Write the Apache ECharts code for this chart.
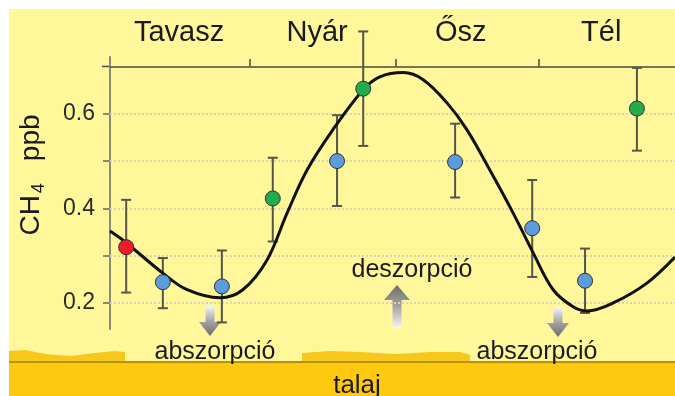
<!DOCTYPE html>
<html>
<head>
<meta charset="utf-8">
<script src="https://cdn.jsdelivr.net/npm/echarts@6/dist/echarts.min.js"></script>
<style>
html, body { margin: 0; padding: 0; background: #fff; }
#chart { width: 675px; height: 396px; }
</style>
</head>
<body>
<div id="chart"></div>
<script>
// x = months from start of spring, y = CH4 ppb
const months = [0.34, 1.11, 2.35, 3.42, 4.77, 5.32, 7.25, 8.87, 9.98, 11.07];
const means = [0.318, 0.244, 0.235, 0.421, 0.50, 0.653, 0.498, 0.358, 0.247, 0.611];
const upper = [0.418, 0.295, 0.311, 0.507, 0.597, 0.774, 0.579, 0.460, 0.315, 0.697];
const lower = [0.222, 0.189, 0.159, 0.330, 0.405, 0.532, 0.423, 0.255, 0.179, 0.522];
const pointColors = ['#ec1c2a', '#5b9ddb', '#5b9ddb', '#21ad4b', '#5b9ddb', '#21ad4b', '#5b9ddb', '#5b9ddb', '#5b9ddb', '#21ad4b'];

// fitted seasonal curve
const curveX = [0.00, 0.32, 1.11, 1.62, 2.31, 2.79, 3.30, 3.72, 4.14, 4.68, 5.32, 5.67, 6.16, 6.58, 7.08, 7.50, 7.98, 8.47, 8.89, 9.31, 9.73, 10.02, 10.57, 11.28, 11.87];
const curveY = [0.352, 0.329, 0.263, 0.228, 0.211, 0.228, 0.291, 0.390, 0.481, 0.566, 0.651, 0.678, 0.687, 0.672, 0.623, 0.566, 0.481, 0.390, 0.306, 0.228, 0.192, 0.183, 0.200, 0.242, 0.297];

const seasons = ['Tavasz', 'Nyár', 'Ősz', 'Tél'];
const seasonCenters = [1.45, 4.35, 7.37, 10.32];
const seasonBreaks = [2.94, 6.0, 9.0];
const gridValues = [0.2, 0.3, 0.4, 0.5, 0.6];
const yLabels = [0.2, 0.4, 0.6];

const textColor = '#1a1a20';
const font = '"Liberation Sans", Arial, sans-serif';

const chart = echarts.init(document.getElementById('chart'));

const option = {
    backgroundColor: '#fff799',
    animation: false,
    grid: { left: 110, right: 0, top: 57, bottom: 67 },
    xAxis: {
        type: 'value',
        min: 0,
        max: 11.87,
        show: false
    },
    yAxis: {
        type: 'value',
        min: 0.145,
        max: 0.72,
        axisLine: { show: true, lineStyle: { color: '#8a8a7a', width: 2 } },
        axisTick: {
            show: true,
            length: 7,
            customValues: gridValues,
            lineStyle: { color: '#8a8a7a', width: 2 }
        },
        axisLabel: {
            customValues: yLabels,
            margin: 15,
            fontSize: 23,
            fontFamily: font,
            color: '#2a2a2a',
            formatter: (v) => v.toFixed(1)
        },
        splitLine: { show: false }
    },
    series: [
        {
            // grid lines, top frame line and season dividers
            type: 'line',
            data: [],
            silent: true,
            z: 1,
            markLine: {
                z: 1,
                silent: true,
                symbol: 'none',
                label: { show: false },
                data: gridValues.map(v => ({
                    yAxis: v,
                    lineStyle: { color: '#d8d4b4', width: 2, type: [2, 2] }
                })).concat([
                    { yAxis: 0.70, lineStyle: { color: '#4a4a40', width: 1.5, type: 'solid' } }
                ]).concat(seasonBreaks.map(b => [
                    { coord: [b, 0.70], lineStyle: { color: '#4a4a40', width: 1.5, type: 'solid' } },
                    { coord: [b, 0.716] }
                ]))
            }
        },
        {
            type: 'custom',
            z: 2,
            data: months.map((m, i) => [m, lower[i], upper[i]]),
            renderItem: (params, api) => {
                const lo = api.coord([api.value(0), api.value(1)]);
                const hi = api.coord([api.value(0), api.value(2)]);
                const w = 5;
                const style = { stroke: '#55554a', lineWidth: 2 };
                return {
                    type: 'group',
                    children: [
                        { type: 'line', shape: { x1: lo[0], y1: lo[1], x2: hi[0], y2: hi[1] }, style },
                        { type: 'line', shape: { x1: lo[0] - w, y1: lo[1], x2: lo[0] + w, y2: lo[1] }, style },
                        { type: 'line', shape: { x1: hi[0] - w, y1: hi[1], x2: hi[0] + w, y2: hi[1] }, style }
                    ]
                };
            }
        },
        {
            type: 'line',
            z: 3,
            smooth: 0.35,
            showSymbol: false,
            data: curveX.map((x, i) => [x, curveY[i]]),
            lineStyle: { color: '#111', width: 3 }
        },
        {
            type: 'scatter',
            z: 6,
            symbolSize: 15,
            data: months.map((m, i) => ({
                value: [m, means[i]],
                itemStyle: { color: pointColors[i] }
            })),
            itemStyle: { borderColor: '#333333', borderWidth: 1, opacity: 1 }
        }
    ]
};

chart.setOption(option);

const arrowFill = (flip) => new echarts.graphic.LinearGradient(0, flip ? 1 : 0, 0, flip ? 0 : 1, [
    { offset: 0, color: '#f6f6f6' },
    { offset: 0.5, color: '#a4a4a4' },
    { offset: 1, color: '#6e6e6e' }
]);

const downArrow = (cx, top) => ({
    type: 'polygon',
    shape: {
        points: [[cx - 4.5, top], [cx + 4.5, top], [cx + 4.5, top + 16], [cx + 11, top + 16],
            [cx, top + 30], [cx - 11, top + 16], [cx - 4.5, top + 16]]
    },
    style: { fill: arrowFill(false) }
});

const upArrow = (cx, top) => ({
    type: 'polygon',
    shape: {
        points: [[cx, top], [cx + 13, top + 15], [cx + 4.5, top + 15], [cx + 4.5, top + 43],
            [cx - 4.5, top + 43], [cx - 4.5, top + 15], [cx - 13, top + 15]]
    },
    style: { fill: arrowFill(true) }
});

const label = (text, x, y, size) => ({
    type: 'text',
    x: x,
    y: y,
    style: {
        text: text,
        fill: textColor,
        font: size + 'px ' + font,
        align: 'center',
        verticalAlign: 'middle'
    }
});

const graphics = [
    // soil
    {
        type: 'polygon',
        shape: {
            points: [[9, 351], [25, 350], [45, 354], [70, 356], [95, 353], [115, 351], [125, 352], [125, 362], [9, 362]]
        },
        style: { fill: '#f7c81c' }
    },
    {
        type: 'polygon',
        shape: {
            points: [[302, 353], [330, 351], [360, 352], [395, 354], [430, 352], [460, 352], [470, 355], [470, 362], [302, 362]]
        },
        style: { fill: '#f7c81c' }
    },
    { type: 'rect', shape: { x: 9, y: 363, width: 666, height: 33 }, style: { fill: '#fec90e' } },
    { type: 'rect', shape: { x: 9, y: 361, width: 666, height: 2 }, style: { fill: '#b8920a' } },
    label('talaj', 357, 386, 26),
    downArrow(210, 306),
    downArrow(558, 307),
    upArrow(397, 285),
    label('abszorpció', 215, 352, 25),
    label('abszorpció', 537, 352, 25),
    label('deszorpció', 412, 270, 25),
    // y axis name
    {
        type: 'text',
        x: 31,
        y: 175,
        rotation: Math.PI / 2,
        style: {
            text: '{a|CH}{b|4}{c|ppb}',
            align: 'center',
            verticalAlign: 'middle',
            rich: {
                a: { fontSize: 28, fontFamily: font, fill: textColor, lineHeight: 34 },
                b: { fontSize: 18, fontFamily: font, fill: textColor, verticalAlign: 'bottom', lineHeight: 14, padding: [0, 0, 0, 2] },
                c: { fontSize: 28, fontFamily: font, fill: textColor, lineHeight: 34, padding: [0, 0, 0, 22] }
            }
        }
    },
    // page margin
    { type: 'rect', shape: { x: 0, y: 0, width: 675, height: 9 }, style: { fill: '#ffffff' } },
    { type: 'rect', shape: { x: 0, y: 0, width: 9, height: 396 }, style: { fill: '#ffffff' } }
];

// frame line stub left of the axis
const topY = chart.convertToPixel({ yAxisIndex: 0 }, 0.70);
graphics.push({
    type: 'line',
    shape: { x1: 102, y1: topY, x2: 110, y2: topY },
    style: { stroke: '#4a4a40', lineWidth: 1.5 }
});

seasons.forEach((s, i) => {
    const px = chart.convertToPixel({ xAxisIndex: 0 }, seasonCenters[i]);
    graphics.push(label(s, px, 33, 29));
});

chart.setOption({ graphic: graphics });
</script>
</body>
</html>
